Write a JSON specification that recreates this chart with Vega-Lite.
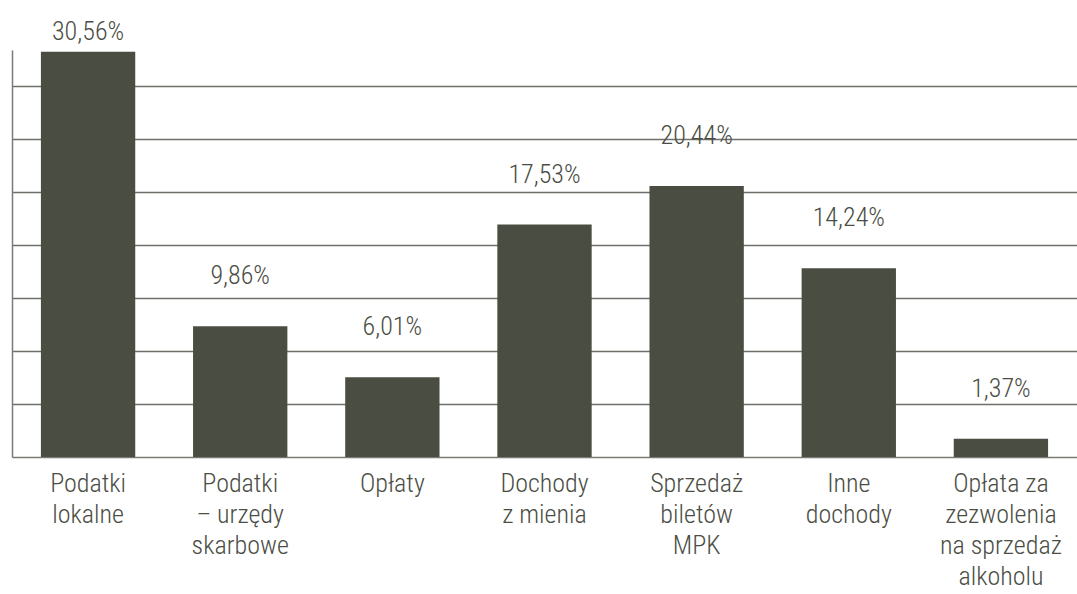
{
  "$schema": "https://vega.github.io/schema/vega-lite/v6.json",
  "width": 1065,
  "height": 407,
  "autosize": {"type": "none"},
  "padding": {"left": 12, "top": 50, "right": 0, "bottom": 137},
  "background": "#ffffff",
  "config": {
    "view": {"stroke": null},
    "font": "Roboto Condensed, DejaVu Sans Condensed, sans-serif"
  },
  "data": {
    "values": [
      {"category": "Podatki|lokalne", "value": 30.56, "label": "30,56%"},
      {"category": "Podatki|– urzędy|skarbowe", "value": 9.86, "label": "9,86%"},
      {"category": "Opłaty", "value": 6.01, "label": "6,01%"},
      {"category": "Dochody|z mienia", "value": 17.53, "label": "17,53%"},
      {"category": "Sprzedaż|biletów|MPK", "value": 20.44, "label": "20,44%"},
      {"category": "Inne|dochody", "value": 14.24, "label": "14,24%"},
      {"category": "Opłata za|zezwolenia|na sprzedaż|alkoholu", "value": 1.37, "label": "1,37%"}
    ]
  },
  "encoding": {
    "x": {
      "field": "category",
      "type": "nominal",
      "sort": null,
      "scale": {"paddingInner": 0.38, "paddingOuter": 0.19},
      "axis": {
        "title": null,
        "labelAngle": 0,
        "labelExpr": "split(datum.label, '|')",
        "labelFont": "Roboto Condensed, DejaVu Sans Condensed, sans-serif",
        "labelFontSize": 26,
        "labelFontWeight": 300,
        "labelLineHeight": 31,
        "labelColor": "#4a4d44",
        "labelPadding": 13,
        "labelBaseline": "top",
        "ticks": false,
        "domain": true,
        "domainColor": "#7a7b76",
        "domainWidth": 1.5,
        "labelLimit": 300
      }
    },
    "y": {
      "field": "value",
      "type": "quantitative",
      "scale": {"domain": [0, 30.7], "nice": false, "zero": true},
      "axis": {
        "title": null,
        "values": [4, 8, 12, 16, 20, 24, 28],
        "labels": false,
        "ticks": false,
        "domain": true,
        "domainColor": "#7a7b76",
        "domainWidth": 1.5,
        "grid": true,
        "gridColor": "#6e706a",
        "gridWidth": 1.5
      }
    }
  },
  "layer": [
    {
      "mark": {"type": "bar", "color": "#4a4e42"}
    },
    {
      "transform": [{"filter": "datum.value < 30"}],
      "mark": {
        "type": "text",
        "dy": -42,
        "baseline": "alphabetic",
        "align": "center",
        "fontSize": 26,
        "fontWeight": 300,
        "color": "#4a4d44",
        "font": "Roboto Condensed, DejaVu Sans Condensed, sans-serif"
      },
      "encoding": {"text": {"field": "label"}}
    },
    {
      "transform": [{"filter": "datum.value >= 30"}],
      "mark": {
        "type": "text",
        "dy": -12,
        "baseline": "alphabetic",
        "align": "center",
        "fontSize": 26,
        "fontWeight": 300,
        "color": "#4a4d44",
        "font": "Roboto Condensed, DejaVu Sans Condensed, sans-serif"
      },
      "encoding": {"text": {"field": "label"}}
    }
  ]
}
